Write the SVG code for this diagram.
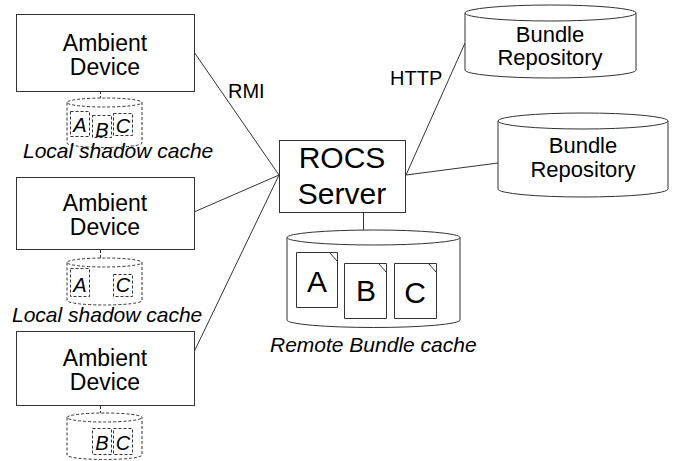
<svg xmlns="http://www.w3.org/2000/svg" width="675" height="461" viewBox="0 0 675 461">
<style>
text{font-family:"Liberation Sans",Arial,sans-serif;fill:#000}
.box{fill:#fff;stroke:#333;stroke-width:1}
.cyl{fill:#fff;stroke:#333;stroke-width:1}
.dcyl{fill:#fff;stroke:#333;stroke-width:1;stroke-dasharray:3,2}
.doc{fill:#fff;stroke:#333;stroke-width:1}
.ddoc{fill:#fff;stroke:#333;stroke-width:1;stroke-dasharray:3,2}
.line{stroke:#333;stroke-width:1;fill:none}
.dline{stroke:#333;stroke-width:1;fill:none;stroke-dasharray:3,2}
.node{font-size:23px;text-anchor:middle}
.big{font-size:30px;text-anchor:middle}
.repo{font-size:22px;text-anchor:middle}
.cap{font-size:21px;font-style:italic}
.lit{font-size:20px;font-style:italic;text-anchor:middle}
.lbl{font-size:20px}
</style>

<g id="connectors">
<line class="line" x1="194" y1="52" x2="279" y2="175"/>
<line class="line" x1="194" y1="212" x2="279" y2="175"/>
<line class="line" x1="194" y1="352" x2="279" y2="175"/>
<line class="line" x1="406" y1="175" x2="465" y2="43"/>
<line class="line" x1="406" y1="175" x2="498" y2="163"/>
<line class="line" x1="363.5" y1="213" x2="363.5" y2="230"/>
<line class="dline" x1="100.5" y1="91" x2="100.5" y2="104"/>
<line class="dline" x1="100.5" y1="250" x2="100.5" y2="264"/>
<line class="dline" x1="100.5" y1="406" x2="100.5" y2="419"/>
<text class="lbl" x="228" y="98">RMI</text>
<text class="lbl" x="390" y="85">HTTP</text>
</g>

<g id="device1">
<rect class="box" x="16.5" y="14.5" width="178" height="77"/>
<text class="node" x="105" y="51">Ambient</text>
<text class="node" x="105" y="75">Device</text>
</g>
<g id="cache1">
<path class="dcyl" d="M67,102.5 V143 A37.5,4.5 0 0 0 142,143 V102.5 A37.5,4.5 0 0 0 67,102.5 A37.5,4.5 0 0 0 142,102.5"/>
<rect class="ddoc" x="70.5" y="111.5" width="19" height="25"/>
<rect class="ddoc" x="92.5" y="115.5" width="19" height="22"/>
<rect class="ddoc" x="113.5" y="113.5" width="19" height="22"/>
<text class="lit" x="80" y="132">A</text>
<text class="lit" x="102" y="137">B</text>
<text class="lit" x="123" y="133">C</text>
<text class="cap" x="23" y="158">Local shadow cache</text>
</g>

<g id="device2">
<rect class="box" x="16.5" y="177.5" width="178" height="72"/>
<text class="node" x="105" y="211">Ambient</text>
<text class="node" x="105" y="235">Device</text>
</g>
<g id="cache2">
<path class="dcyl" d="M67,262.5 V300.5 A37.5,4.5 0 0 0 142,300.5 V262.5 A37.5,4.5 0 0 0 67,262.5 A37.5,4.5 0 0 0 142,262.5"/>
<rect class="ddoc" x="70.5" y="268.5" width="19" height="28"/>
<rect class="ddoc" x="113.5" y="274.5" width="19" height="22"/>
<text class="lit" x="80" y="292">A</text>
<text class="lit" x="123" y="292">C</text>
<text class="cap" x="12" y="322">Local shadow cache</text>
</g>

<g id="device3">
<rect class="box" x="16.5" y="331.5" width="178" height="74"/>
<text class="node" x="105" y="366">Ambient</text>
<text class="node" x="105" y="390">Device</text>
</g>
<g id="cache3">
<path class="dcyl" d="M67,417.5 V455 A37.5,4.5 0 0 0 142,455 V417.5 A37.5,4.5 0 0 0 67,417.5 A37.5,4.5 0 0 0 142,417.5"/>
<rect class="ddoc" x="92.5" y="428.5" width="19" height="26"/>
<rect class="ddoc" x="113.5" y="428.5" width="19" height="26"/>
<text class="lit" x="102" y="450">B</text>
<text class="lit" x="123" y="450">C</text>
</g>

<g id="server">
<rect class="box" x="279.5" y="140.5" width="126" height="72"/>
<text class="big" x="342" y="168">ROCS</text>
<text class="big" x="342" y="204">Server</text>
</g>

<g id="remote-cache">
<path class="cyl" d="M287,237.5 V320 A86.5,7.5 0 0 0 460,320 V237.5 A86.5,7.5 0 0 0 287,237.5 A86.5,7.5 0 0 0 460,237.5"/>
<path class="doc" d="M296.5,252.5 H337.5 V307.5 H296.5 Z M329.5,252.5 L337.5,261.5"/>
<path class="doc" d="M344.5,263.5 H386.5 V318.5 H344.5 Z M378.5,263.5 L386.5,272.5"/>
<path class="doc" d="M394.5,263.5 H436.5 V318.5 H394.5 Z M428.5,263.5 L436.5,272.5"/>
<text class="big" x="317" y="292">A</text>
<text class="big" x="366" y="301">B</text>
<text class="big" x="415" y="303">C</text>
<text class="cap" x="270" y="352">Remote Bundle cache</text>
</g>

<g id="repo1">
<path class="cyl" d="M465,13 V70 A85.5,8 0 0 0 636,70 V13 A85.5,8 0 0 0 465,13 A85.5,8 0 0 0 636,13"/>
<text class="repo" x="550" y="42">Bundle</text>
<text class="repo" x="550" y="65">Repository</text>
</g>

<g id="repo2">
<path class="cyl" d="M498,121 V189 A85,8 0 0 0 668,189 V121 A85,8 0 0 0 498,121 A85,8 0 0 0 668,121"/>
<text class="repo" x="583" y="153">Bundle</text>
<text class="repo" x="583" y="177">Repository</text>
</g>
</svg>
